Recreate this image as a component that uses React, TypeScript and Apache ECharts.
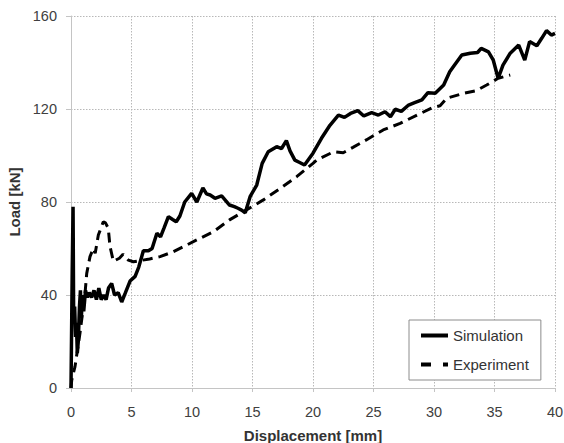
import React, { useEffect, useRef } from "react";
import * as echarts from "echarts";

const xTicks = [0, 5, 10, 15, 20, 25, 30, 35, 40];
const yTicks = [0, 40, 80, 120, 160];

const simX = [0, 0.1, 0.17, 0.22, 0.3, 0.38, 0.45, 0.52, 0.6, 0.7, 0.78, 0.85, 0.95, 1.05, 1.2, 1.35, 1.5, 1.7, 1.9, 2.1, 2.3, 2.5, 2.7, 2.9, 3.1, 3.36, 3.6, 3.9, 4.19, 4.5, 4.88, 5.3, 5.6, 5.98, 6.4, 6.7, 7.1, 7.4, 7.7, 8.05, 8.4, 8.7, 9.0, 9.4, 9.97, 10.4, 10.9, 11.2, 11.5, 11.9, 12.45, 12.8, 13.1, 13.5, 13.8, 14.1, 14.4, 14.8, 15.35, 15.8, 16.3, 17.0, 17.4, 17.8, 18.1, 18.5, 18.9, 19.3, 20.0, 20.7, 21.4, 22.1, 22.6, 23.1, 23.7, 24.2, 24.85, 25.4, 25.95, 26.4, 26.8, 27.3, 27.9, 28.4, 29.0, 29.5, 30.1, 30.8, 31.3, 31.7, 32.3, 33.0, 33.6, 33.9, 34.5, 34.9, 35.3, 35.7, 36.3, 37.0, 37.5, 37.9, 38.5, 38.9, 39.3, 39.7, 40.0];
const simY = [0, 50, 78, 30, 35, 22, 28, 15, 20, 35, 42, 30, 40, 33, 42, 39, 41, 39, 42, 38, 43, 38, 40, 38, 43, 45, 40, 41, 37, 41, 46, 48, 52, 59, 59, 60, 66.6, 65, 69, 73.7, 72.5, 71.5, 74, 80, 83.7, 80, 86, 83.5, 83, 81.6, 82.6, 80.5, 78.7, 78, 77.3, 76.5, 75.4, 82.3, 87.3, 96.6, 101.6, 103.8, 103, 106.4, 102, 98, 97, 95.9, 101, 107.4, 113, 117.4, 116.4, 118.1, 119.3, 117, 118.4, 117.4, 118.8, 116.7, 119.9, 119, 121.7, 122.7, 123.9, 127, 126.8, 130.3, 136, 138.9, 143.2, 144, 144.3, 146.1, 144.6, 141, 133.2, 138.9, 144, 147.5, 141, 149, 147.2, 150.4, 153.7, 151.8, 152.5];

const expX = [0, 0.06, 0.33, 0.74, 1.16, 1.3, 1.57, 1.84, 2.0, 2.26, 2.67, 2.85, 3.08, 3.22, 3.5, 4.0, 4.3, 4.74, 5.15, 6.5, 7.36, 8.45, 9.3, 10.4, 11.76, 13.1, 14.5, 15.9, 17.3, 18.65, 20.0, 20.3, 21.7, 22.5, 23.3, 24.4, 25.8, 27.2, 28.6, 29.9, 30.5, 31.05, 32.4, 33.5, 34.35, 35.3, 36.3];
const expY = [0, 3.4, 9.2, 23.5, 40.7, 49.3, 56.5, 60, 58, 65.8, 71.5, 71, 68.7, 61, 54.5, 55.8, 57.5, 55, 54.3, 55.5, 56.5, 58.6, 60.8, 63.7, 67.2, 72.3, 76.6, 80.9, 85.9, 90.9, 96.6, 98, 101.6, 101.2, 103.5, 106.7, 111, 113.8, 117.4, 120.6, 121.4, 124.6, 126.7, 127.9, 130.3, 133.2, 134.6];

const FONT = "'Liberation Sans', Arial, sans-serif";

export default function App() {
  const ref = useRef<HTMLDivElement>(null);
  useEffect(() => {
    if (!ref.current) return;
    const chart = echarts.init(ref.current, undefined, { renderer: "svg" });
    const grid = { color: "#b8b8b8", width: 1, type: [1.5, 1.5] as any };
    chart.setOption({
      animation: false,
      backgroundColor: "#ffffff",
      textStyle: { fontFamily: FONT },
      grid: { left: 71, right: 9, top: 16, bottom: 55, containLabel: false, outerBoundsMode: "none" },
      legend: {
        orient: "vertical",
        left: 409,
        top: 320,
        padding: [8, 12, 8, 12],
        itemGap: 14,
        itemWidth: 27,
        itemHeight: 4,
        borderColor: "#8c8c8c",
        borderWidth: 1,
        backgroundColor: "#ffffff",
        textStyle: { fontSize: 15, color: "#333333", fontFamily: FONT },
        data: [
          { name: "Simulation", icon: "path://M0 0H27V4H0Z" },
          { name: "Experiment", icon: "path://M0 0H10V4H0Z M22 0H27V4H22Z" },
        ],
      },
      xAxis: {
        type: "value",
        min: xTicks[0],
        max: xTicks[xTicks.length - 1],
        interval: 5,
        name: "Displacement [mm]",
        nameLocation: "middle",
        nameGap: 40,
        nameTextStyle: { fontSize: 15, fontWeight: "bold", color: "#333333", fontFamily: FONT },
        axisLine: { lineStyle: { color: "#c4c4c4", width: 1 } },
        axisTick: { show: true, length: 4, lineStyle: { color: "#c4c4c4" } },
        axisLabel: { fontSize: 14.5, color: "#404040", margin: 16, fontFamily: FONT },
        splitLine: { show: true, lineStyle: grid },
      },
      yAxis: {
        type: "value",
        min: yTicks[0],
        max: yTicks[yTicks.length - 1],
        interval: 40,
        name: "Load [kN]",
        nameLocation: "middle",
        nameGap: 47,
        nameTextStyle: { fontSize: 15, fontWeight: "bold", color: "#333333", fontFamily: FONT },
        axisLine: { show: true, lineStyle: { color: "#c4c4c4", width: 1 } },
        axisTick: { show: true, length: 5, lineStyle: { color: "#c4c4c4" } },
        axisLabel: { fontSize: 14.5, color: "#404040", margin: 14, fontFamily: FONT },
        splitLine: { show: true, lineStyle: grid },
      },
      series: [
        {
          name: "Experiment",
          type: "line",
          symbol: "none",
          data: expX.map((x, i) => [x, expY[i]]),
          lineStyle: { color: "#000000", width: 3, type: [10, 6] },
          itemStyle: { color: "#000000" },
        },
        {
          name: "Simulation",
          type: "line",
          symbol: "none",
          data: simX.map((x, i) => [x, simY[i]]),
          lineStyle: { color: "#000000", width: 3.5 },
          itemStyle: { color: "#000000" },
        },
      ],
    });
    return () => chart.dispose();
  }, []);
  return <div ref={ref} style={{ width: 564, height: 443, position: "absolute", left: 0, top: 0 }} />;
}
